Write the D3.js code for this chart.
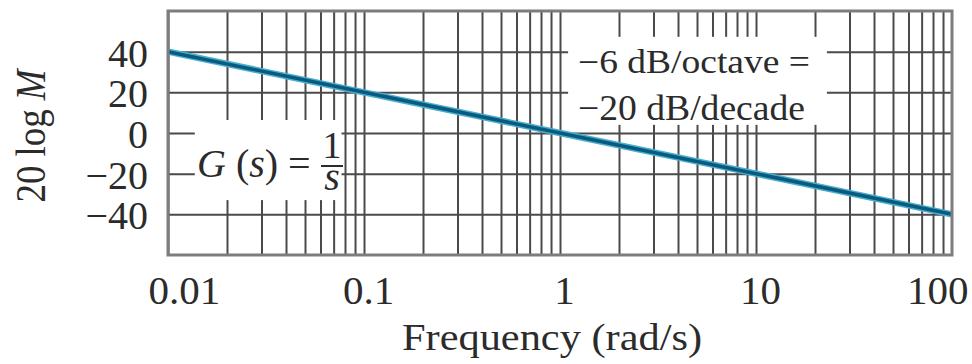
<!DOCTYPE html>
<html lang="en">

<head>
  <meta charset="UTF-8">
  <title>Bode Magnitude G(s) = 1/s</title>
  <style>
    body { margin: 0; background: #fff; }
    text { font-family: "Liberation Serif", "Times New Roman", serif; fill: #2b2b2b; }
    .grid line { stroke: #4a4a4a; stroke-width: 2; }
    .grid path { display: none; }
  </style>
</head>

<body>
  <div id="content">
    <svg width="972" height="364"></svg>
  </div>

  <script src="https://d3js.org/d3.v7.min.js"></script>

  <script>
// Data
var freq = [0.01, 0.1, 1, 10, 100]
var magDb = [40, 20, 0, -20, -40]

// Tick labels
var xTickValues = [0.01, 0.1, 1, 10, 100]
var xTickLabels = ["0.01", "0.1", "1", "10", "100"]
var yTickValues = [40, 20, 0, -20, -40]
var yTickLabels = ["40", "20", "0", "\u221220", "\u221240"]

var width = 972, height = 364
// plot box edges (note: "top" is reserved on window, so use pTop etc.)
var pLeft = 168, pRight = 952, pTop = 11, pBottom = 255

var svg = d3.select('svg')

var x = d3.scaleLog().domain([0.01, 100]).range([pLeft, pRight])
var y = d3.scaleLinear().domain([-60, 60]).range([pBottom, pTop])

// Grid lines: 1..9 per decade
var gridFreqs = []
for (var d = -2; d < 2; d++) {
  for (var m = 1; m <= 9; m++) {
    gridFreqs.push(m * Math.pow(10, d))
  }
}

svg.append('g')
  .attr('class', 'grid')
  .attr('transform', 'translate(0,' + pBottom + ')')
  .call(d3.axisBottom(x).tickValues(gridFreqs).tickSize(-(pBottom - pTop)).tickFormat(''))

svg.append('g')
  .attr('class', 'grid')
  .attr('transform', 'translate(' + pLeft + ',0)')
  .call(d3.axisLeft(y).tickValues(yTickValues).tickSize(-(pRight - pLeft)).tickFormat(''))

// White boxes behind the annotations (in data units)
function whiteBox(f0, f1, db0, db1) {
  svg.append('rect')
    .attr('x', x(f0))
    .attr('y', y(db1))
    .attr('width', x(f1) - x(f0))
    .attr('height', y(db0) - y(db1))
    .attr('fill', '#fff')
}
whiteBox(0.0137, 0.0768, -33, 6.4)
whiteBox(1.1, 23, 4, 47.3)

// Magnitude curve
var line = d3.line()
  .x(function(d, i) { return x(freq[i]) })
  .y(function(d) { return y(d) })

svg.append('path')
  .datum(magDb)
  .attr('d', line)
  .attr('fill', 'none')
  .attr('stroke', '#48aed0')
  .attr('stroke-width', 6.5)

svg.append('path')
  .datum(magDb)
  .attr('d', line)
  .attr('fill', 'none')
  .attr('stroke', '#0a5a7e')
  .attr('stroke-width', 3.5)

// Plot border
svg.append('rect')
  .attr('x', pLeft)
  .attr('y', pTop)
  .attr('width', pRight - pLeft)
  .attr('height', pBottom - pTop)
  .attr('fill', 'none')
  .attr('stroke', '#7d7d7d')
  .attr('stroke-width', 3)

// Y axis labels
var yAxis = svg.append('g')
  .attr('transform', 'translate(148,0)')
  .call(d3.axisLeft(y).tickValues(yTickValues).tickSize(0)
    .tickFormat(function(d, i) { return yTickLabels[i] }))
yAxis.select('.domain').remove()
yAxis.selectAll('text')
  .attr('x', 0)
  .attr('dy', '0.36em')
  .attr('fill', '#2b2b2b')
  .style('font-size', '40px')
  .style('font-family', '"Liberation Serif", serif')

// X axis labels
var xAxis = svg.append('g')
  .attr('transform', 'translate(0,304)')
  .call(d3.axisBottom(x).tickValues(xTickValues).tickSize(0)
    .tickFormat(function(d, i) { return xTickLabels[i] }))
xAxis.select('.domain').remove()
xAxis.selectAll('text')
  .attr('y', 0)
  .attr('dy', 0)
  .attr('fill', '#2b2b2b')
  .style('font-size', '41px')
  .style('font-family', '"Liberation Serif", serif')
  .attr('text-anchor', function(d, i) {
    return i == 0 ? 'start' : (i == xTickValues.length - 1 ? 'end' : 'middle')
  })
  .attr('dx', function(d, i) {
    return i == 0 ? -20 : (i == xTickValues.length - 1 ? 16 : 4)
  })

// Axis titles
svg.append('text')
  .attr('x', 552)
  .attr('y', 350)
  .attr('text-anchor', 'middle')
  .attr('textLength', 300)
  .attr('lengthAdjust', 'spacingAndGlyphs')
  .style('font-size', '38px')
  .text('Frequency (rad/s)')

var yTitle = svg.append('text')
  .attr('transform', 'translate(45,136) rotate(-90)')
  .attr('text-anchor', 'middle')
  .attr('textLength', 133)
  .attr('lengthAdjust', 'spacingAndGlyphs')
  .style('font-size', '42px')
yTitle.append('tspan').text('20 log ')
yTitle.append('tspan').style('font-style', 'italic').text('M')

// Slope annotation
svg.append('text')
  .attr('x', 578).attr('y', 73)
  .attr('textLength', 232)
  .attr('lengthAdjust', 'spacingAndGlyphs')
  .style('font-size', '33px')
  .text('\u22126 dB/octave =')

svg.append('text')
  .attr('x', 578).attr('y', 120)
  .attr('textLength', 227)
  .attr('lengthAdjust', 'spacingAndGlyphs')
  .style('font-size', '35px')
  .text('\u221220 dB/decade')

// Transfer function annotation
var gLabel = svg.append('text')
  .attr('x', 197).attr('y', 177)
  .style('font-size', '40px')
gLabel.append('tspan').style('font-style', 'italic').text('G')
gLabel.append('tspan').text(' (')
gLabel.append('tspan').style('font-style', 'italic').text('s')
gLabel.append('tspan').text(') =')

// fraction 1/s
svg.append('text')
  .attr('x', 332).attr('y', 158)
  .attr('text-anchor', 'middle')
  .style('font-size', '38px')
  .text('1')

svg.append('line')
  .attr('x1', 321).attr('x2', 343)
  .attr('y1', 166).attr('y2', 166)
  .attr('stroke', '#2b2b2b')
  .attr('stroke-width', 2)

svg.append('text')
  .attr('x', 332).attr('y', 190)
  .attr('text-anchor', 'middle')
  .style('font-size', '40px')
  .style('font-style', 'italic')
  .text('s')
  </script>

</body>

</html>
